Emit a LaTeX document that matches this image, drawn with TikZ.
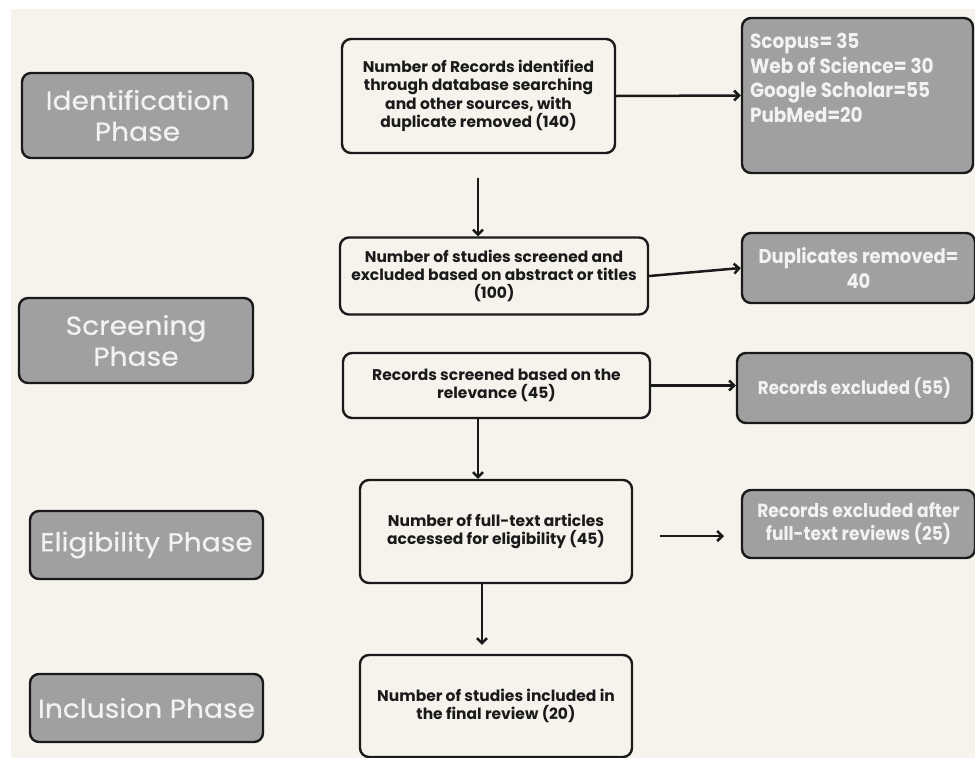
\documentclass[tikz,border=0pt]{standalone}
\usepackage{fontspec}
\setmainfont{Poppins}
\newfontfamily\phasefont[FakeStretch = 1.08, FakeBold = 0.6]{Poppins}
\newfontfamily\sidefont[FakeStretch = 0.9]{Poppins}
\usetikzlibrary{arrows.meta}

\definecolor{paper}{HTML}{F6F3EC}
\definecolor{boxgray}{HTML}{A0A0A0}
\definecolor{ink}{HTML}{1A1A1A}
\definecolor{pale}{HTML}{F2F2F2}

\begin{document}
\begin{tikzpicture}[%
        x = 1pt,
        y = -1pt,
        % grey boxes on the left name the phases
        phase/.style = {%
            draw = ink, line width = 2.4pt, rounded corners = 9pt,
            fill = boxgray, text = pale, align = center, inner sep = 0pt,
            font = \phasefont\fontsize{26}{31}\selectfont,
        },
        % light boxes in the middle hold the counts
        stage/.style = {%
            draw = ink, line width = 2.4pt, rounded corners = 9pt,
            fill = paper, text = ink, align = center, inner sep = 0pt,
            font = \bfseries\fontsize{15.5}{18.4}\selectfont,
        },
        % grey boxes on the right hold what was taken out
        outcome/.style = {%
            draw = ink, line width = 2.4pt, rounded corners = 9pt,
            fill = boxgray, text = pale, align = center, inner sep = 0pt,
            font = \sidefont\bfseries\fontsize{18.5}{23}\selectfont,
        },
        flow/.style = {%
            draw = ink, line width = 2.5pt,
            -{Straight Barb[length = 5pt, width = 10pt]},
        },
    ]

        \useasboundingbox (0, 0) rectangle (975, 758);
        \fill[white] (0, 0) rectangle (975, 758);
        \fill[paper] (11, 9) rectangle (975, 758);

        % The phases.
        \node[phase, minimum width = 231pt, minimum height = 85pt] (idph) at (137.5, 115.5) {Identification\\Phase};
        \node[phase, minimum width = 234pt, minimum height = 85pt] (scph) at (136, 340.5) {Screening\\Phase};
        \node[phase, minimum width = 233pt, minimum height = 68pt] (elph) at (146.5, 545) {Eligibility Phase};
        \node[phase, minimum width = 233pt, minimum height = 68pt] (inph) at (146.5, 708) {Inclusion Phase};

        % The main column.
        \node[stage, minimum width = 273pt, minimum height = 114pt] (ident) at (478.5, 96) {Number of Records identified\\through database searching\\and other sources, with\\duplicate removed (140)};
        \node[stage, minimum width = 308pt, minimum height = 77pt] (screen) at (494, 276) {Number of studies screened and\\excluded based on abstract or titles\\(100)};
        \node[stage, minimum width = 307pt, minimum height = 65pt] (relev) at (496.5, 385.5) {Records screened based on the\\relevance (45)};
        \node[stage, minimum width = 272pt, minimum height = 103pt] (full) at (496, 531.5) {Number of full-text articles\\accessed for eligibility (45)};
        \node[stage, minimum width = 272pt, minimum height = 102pt] (incl) at (496, 706) {Number of studies included in\\the final review (20)};

        % The side boxes.
        \node[outcome, minimum width = 231pt, minimum height = 155pt] (srcs) at (857.5, 95.5) {};
        \node[text = pale, align = left, anchor = north west, inner sep = 0pt,
              font = \sidefont\bfseries\fontsize{20.5}{24.7}\selectfont]
            (srclist) at ([xshift = 9pt, yshift = -16pt]srcs.north west)
            {Scopus= 35\\Web of Science= 30\\Google Scholar=55\\PubMed=20};
        \node[outcome, minimum width = 233pt, minimum height = 70pt,
              font = \sidefont\bfseries\fontsize{20}{25}\selectfont] (dupl) at (858.5, 268) {Duplicates removed=\\40};
        \node[outcome, minimum width = 235pt, minimum height = 70pt] (excl) at (854.5, 388) {Records excluded (55)};
        \node[outcome, minimum width = 233pt, minimum height = 68pt,
              font = \sidefont\bfseries\fontsize{19}{23}\selectfont] (exft) at (858.5, 524) {Records excluded after\\full-text reviews (25)};

        % Loose arrow ends.
        \coordinate (drop) at (478, 178);
        \coordinate (ftstart) at (660, 536);
        \coordinate (ftend) at (724, 536);

        \draw[flow] (ident.east) -- (srcs.west);
        \draw[flow] (drop) -- (drop |- screen.north);
        \draw[flow] (screen.east) -- (dupl.west);
        \draw[flow] (relev.east) -- (excl.west |- relev.east);
        \draw[flow] (relev.south -| drop) -- (full.north -| drop);
        \draw[flow] ([xshift = -14pt]full.south) -- ([xshift = -14pt, yshift = 9pt]incl.north);
        \draw[flow] (ftstart) -- (ftend);
    \end{tikzpicture}
\end{document}
